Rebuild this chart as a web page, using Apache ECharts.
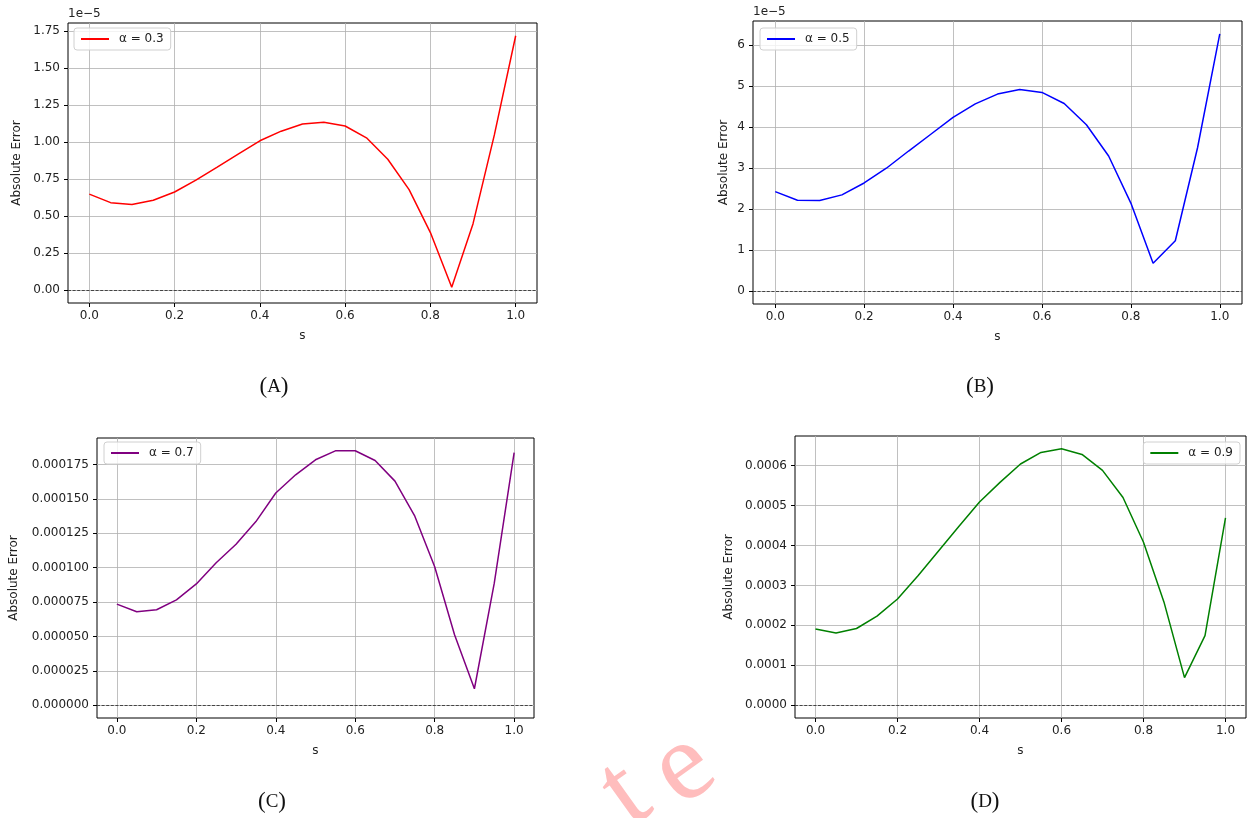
<!DOCTYPE html>
<html>
<head>
<meta charset="utf-8">
<script src="https://cdn.jsdelivr.net/npm/echarts@6/dist/echarts.min.js"></script>
<style>
  html, body { margin: 0; background: #fff; }
  #chart { width: 1247px; height: 818px; }
</style>
</head>
<body>
<div id="chart"></div>
<script>
// sample points along s
const sValues = [0, 0.05, 0.1, 0.15, 0.2, 0.25, 0.3, 0.35, 0.4, 0.45, 0.5,
  0.55, 0.6, 0.65, 0.7, 0.75, 0.8, 0.85, 0.9, 0.95, 1.0];

// absolute error per alpha
const errA = [0.650e-5, 0.592e-5, 0.579e-5, 0.608e-5, 0.664e-5, 0.744e-5, 0.832e-5,
  0.922e-5, 1.010e-5, 1.075e-5, 1.123e-5, 1.135e-5, 1.110e-5, 1.030e-5, 0.885e-5,
  0.680e-5, 0.390e-5, 0.020e-5, 0.450e-5, 1.050e-5, 1.720e-5];
const errB = [2.43e-5, 2.22e-5, 2.21e-5, 2.35e-5, 2.64e-5, 3.00e-5, 3.42e-5, 3.83e-5,
  4.24e-5, 4.57e-5, 4.81e-5, 4.92e-5, 4.85e-5, 4.58e-5, 4.06e-5, 3.30e-5, 2.15e-5,
  0.68e-5, 1.23e-5, 3.50e-5, 6.28e-5];
const errC = [7.35e-5, 6.80e-5, 6.94e-5, 7.66e-5, 8.82e-5, 10.36e-5, 11.70e-5, 13.35e-5,
  15.43e-5, 16.75e-5, 17.84e-5, 18.49e-5, 18.50e-5, 17.79e-5, 16.29e-5, 13.74e-5,
  10.07e-5, 5.13e-5, 1.20e-5, 8.87e-5, 18.37e-5];
const errD = [1.91e-4, 1.81e-4, 1.92e-4, 2.23e-4, 2.66e-4, 3.24e-4, 3.86e-4, 4.48e-4,
  5.09e-4, 5.58e-4, 6.04e-4, 6.33e-4, 6.42e-4, 6.28e-4, 5.88e-4, 5.20e-4, 4.08e-4,
  2.58e-4, 0.69e-4, 1.74e-4, 4.69e-4];

const legendNames = ['α = 0.3', 'α = 0.5', 'α = 0.7', 'α = 0.9'];
const panelTags = ['A', 'B', 'C', 'D'];

// tick labels
const xTicks = [0, 0.2, 0.4, 0.6, 0.8, 1.0];
const yTicksA = [0, 0.25e-5, 0.5e-5, 0.75e-5, 1.0e-5, 1.25e-5, 1.5e-5, 1.75e-5];
const yTicksB = [0, 1e-5, 2e-5, 3e-5, 4e-5, 5e-5, 6e-5];
const yTicksC = [0, 0.000025, 0.00005, 0.000075, 0.0001, 0.000125, 0.00015, 0.000175];
const yTicksD = [0, 0.0001, 0.0002, 0.0003, 0.0004, 0.0005, 0.0006];

const FONT = 'DejaVu Sans';
const TXT = '#222';

// layout of the four panels
const panels = [
  { err: errA, yTicks: yTicksA, color: '#ff0000', box: [68, 23, 469, 280],
    fmt: v => (v / 1e-5).toFixed(2), offset: '1e\u22125', nameGap: 45,
    legend: { left: 74, top: 28 }, tag: [274, 387] },
  { err: errB, yTicks: yTicksB, color: '#0000ff', box: [753, 21, 489, 283],
    fmt: v => (v / 1e-5).toFixed(0), offset: '1e\u22125', nameGap: 23,
    legend: { left: 760, top: 28 }, tag: [980, 387] },
  { err: errC, yTicks: yTicksC, color: '#800080', box: [97, 438, 437, 280],
    fmt: v => v.toFixed(6), offset: null, nameGap: 77,
    legend: { left: 104, top: 442 }, tag: [272, 802] },
  { err: errD, yTicks: yTicksD, color: '#008000', box: [795, 436, 451, 282],
    fmt: v => v.toFixed(4), offset: null, nameGap: 60,
    legend: { right: 7, top: 442 }, tag: [985, 802] }
];

const grid = [], xAxis = [], yAxis = [], series = [], legend = [], graphic = [];

panels.forEach((p, i) => {
  // matplotlib-like autoscale with 5% margins (zero line included)
  const lo = Math.min(0, ...p.err), hi = Math.max(0, ...p.err);
  const pad = (hi - lo) * 0.05;

  grid.push({
    left: p.box[0], top: p.box[1], width: p.box[2], height: p.box[3],
    show: true, borderColor: '#000', borderWidth: 1, backgroundColor: 'transparent',
    containLabel: false, outerBoundsMode: 'none'
  });

  xAxis.push({
    type: 'value', gridIndex: i, min: -0.05, max: 1.05,
    name: 's', nameLocation: 'middle', nameGap: 27,
    nameTextStyle: { fontFamily: FONT, fontSize: 12, color: TXT },
    axisLine: { show: false, onZero: false },
    axisTick: { show: true, customValues: xTicks, length: 4, lineStyle: { color: '#000', width: 1 } },
    axisLabel: { customValues: xTicks, formatter: v => v.toFixed(1), margin: 7,
      fontFamily: FONT, fontSize: 12, color: TXT },
    splitLine: { show: true, lineStyle: { color: '#b0b0b0', width: 0.8 } }
  });

  yAxis.push({
    type: 'value', gridIndex: i, min: lo - pad, max: hi + pad,
    name: 'Absolute Error', nameLocation: 'middle', nameGap: p.nameGap,
    nameTextStyle: { fontFamily: FONT, fontSize: 12, color: TXT },
    axisLine: { show: false, onZero: false },
    axisTick: { show: true, customValues: p.yTicks, length: 4, lineStyle: { color: '#000', width: 1 } },
    axisLabel: { customValues: p.yTicks, formatter: p.fmt, margin: 8,
      fontFamily: FONT, fontSize: 12, color: TXT },
    splitLine: { show: true, lineStyle: { color: '#b0b0b0', width: 0.8 } }
  });

  series.push({
    type: 'line', name: legendNames[i], xAxisIndex: i, yAxisIndex: i,
    data: sValues.map((s, j) => [s, p.err[j]]),
    symbol: 'none', smooth: false,
    lineStyle: { color: p.color, width: 1.5 },
    itemStyle: { color: p.color },
    markLine: {
      silent: true, symbol: 'none', label: { show: false },
      lineStyle: { color: '#444', width: 1, type: [3, 1.6] },
      data: [{ yAxis: 0 }]
    },
    z: 3
  });

  legend.push(Object.assign({
    data: [legendNames[i]], orient: 'vertical',
    icon: 'rect', itemWidth: 28, itemHeight: 2,
    padding: [5, 7], backgroundColor: 'rgba(255,255,255,0.8)',
    borderColor: '#d0d0d0', borderWidth: 1, borderRadius: 3,
    textStyle: { fontFamily: FONT, fontSize: 12, color: TXT, padding: [0, 0, 0, 5] }
  }, p.legend));

  if (p.offset) {
    graphic.push({
      type: 'text', left: p.box[0], top: p.box[1] - 15,
      style: { text: p.offset, fontFamily: FONT, fontSize: 12, fill: TXT }
    });
  }

  // sub-figure caption in small caps
  graphic.push({
    type: 'text', x: p.tag[0], y: p.tag[1],
    style: {
      text: '{p|(}{l|' + panelTags[i] + '}{p|)}',
      align: 'center', verticalAlign: 'middle',
      rich: {
        p: { fontFamily: 'Liberation Serif', fontSize: 23, fill: '#111' },
        l: { fontFamily: 'Liberation Serif', fontSize: 19, fill: '#111' }
      }
    }
  });
});

// faint watermark fragment near the bottom centre, partly hidden behind panel D
const wmStyle = { fontFamily: 'Liberation Serif', fontSize: 112, fill: '#ffbdbd',
  align: 'center', verticalAlign: 'middle' };
graphic.push(
  { type: 'text', x: 626, y: 795, rotation: 0.62, z: -20, silent: true,
    style: Object.assign({ text: 't' }, wmStyle) },
  { type: 'text', x: 684, y: 769, rotation: 0.62, z: -20, silent: true,
    style: Object.assign({ text: 'e' }, wmStyle) },
  { type: 'rect', z: -10, silent: true, shape: { x: 709, y: 630, width: 40, height: 115 },
    style: { fill: '#fff' } }
);

const chart = echarts.init(document.getElementById('chart'), null, { renderer: 'canvas' });
chart.setOption({
  animation: false,
  backgroundColor: '#fff',
  grid, xAxis, yAxis, series, legend, graphic
});
</script>
</body>
</html>
